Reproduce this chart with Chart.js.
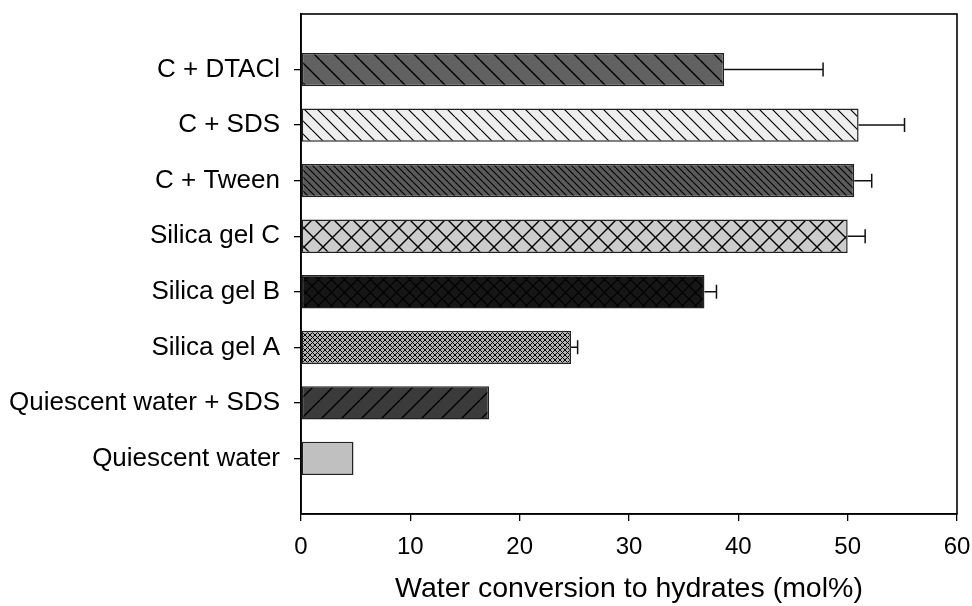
<!DOCTYPE html>
<html>
<head>
<meta charset="utf-8">
<script src="https://cdn.jsdelivr.net/npm/chart.js@4.4.1/dist/chart.umd.min.js"></script>
<style>
  html, body { margin: 0; padding: 0; background: #ffffff; }
  #wrap { width: 972px; height: 606px; }
</style>
</head>
<body>
<div id="wrap"><canvas id="c" width="972" height="606"></canvas></div>
<script>
// ---- data (top to bottom as drawn) ----
const categories = ['C + DTACl', 'C + SDS', 'C + Tween', 'Silica gel C', 'Silica gel B', 'Silica gel A', 'Quiescent water + SDS', 'Quiescent water'];
const conversion = [38.7, 51.0, 50.6, 50.0, 36.9, 24.7, 17.2, 4.8];
const errorUpper = [47.75, 55.2, 52.2, 51.6, 38.0, 25.3, null, null];
const xTicks = [0, 10, 20, 30, 40, 50, 60];
const xTitle = 'Water conversion to hydrates (mol%)';

// ---- fill patterns ----
function makePattern(bg, size, kind, lineColor, lw) {
  const c = document.createElement('canvas');
  c.width = size; c.height = size;
  const g = c.getContext('2d');
  g.fillStyle = bg; g.fillRect(0, 0, size, size);
  if (kind !== 'none') {
    g.strokeStyle = lineColor; g.lineWidth = lw;
    g.beginPath();
    for (let k = -1; k <= 1; k++) {
      if (kind === 'back' || kind === 'cross') { g.moveTo(k * size, 0); g.lineTo(k * size + size, size); }
      if (kind === 'fwd' || kind === 'cross') { g.moveTo(k * size, size); g.lineTo(k * size + size, 0); }
    }
    g.stroke();
  }
  return document.getElementById('c').getContext('2d').createPattern(c, 'repeat');
}
const fills = [
  makePattern('#616161', 20, 'back', '#000', 1.4),
  makePattern('#eeeeee', 13, 'back', '#000', 1.2),
  makePattern('#5a5a5a', 7, 'back', '#000', 1.1),
  makePattern('#cccccc', 19, 'cross', '#000', 1.4),
  makePattern('#161616', 13, 'cross', '#000', 1.2),
  makePattern('#b4b4b4', 5, 'cross', '#000', 1.0),
  makePattern('#3b3b3b', 20, 'fwd', '#000', 1.4),
  makePattern('#c0c0c0', 8, 'none', '#000', 1)
];

const points = conversion.map((v, i) => ({ x: v, y: i }));

const frameAndErrors = {
  id: 'frameAndErrors',
  afterDatasetsDraw(chart) {
    const ctx = chart.ctx;
    const xs = chart.scales.x;
    const meta = chart.getDatasetMeta(0);
    ctx.save();
    ctx.strokeStyle = '#111';
    ctx.lineWidth = 1.5;
    meta.data.forEach((bar, i) => {
      const up = errorUpper[i];
      if (up === null) return;
      const x0 = xs.getPixelForValue(conversion[i]);
      const x1 = xs.getPixelForValue(up);
      const y = bar.y;
      ctx.beginPath();
      ctx.moveTo(x0, y); ctx.lineTo(x1, y);
      ctx.moveTo(x1, y - 7); ctx.lineTo(x1, y + 7);
      ctx.stroke();
    });
    const a = chart.chartArea;
    ctx.strokeStyle = '#000';
    ctx.lineWidth = 1.6;
    ctx.strokeRect(a.left, a.top, a.right - a.left, a.bottom - a.top);
    ctx.restore();
  }
};

new Chart(document.getElementById('c'), {
  type: 'bar',
  data: {
    datasets: [{
      data: points,
      backgroundColor: fills,
      borderColor: '#222',
      borderWidth: 1.5,
      borderSkipped: false,
      barPercentage: 0.6,
      categoryPercentage: 1.0
    }]
  },
  plugins: [frameAndErrors],
  options: {
    indexAxis: 'y',
    responsive: false,
    animation: false,
    layout: { padding: { top: 14, right: 15, left: 0, bottom: 0 } },
    plugins: { legend: { display: false }, tooltip: { enabled: false } },
    scales: {
      x: {
        type: 'linear', min: 0, max: 60, offset: false,
        afterBuildTicks(s) { s.ticks = xTicks.map(v => ({ value: v })); },
        afterFit(s) { s.height = 92; s.paddingLeft = 0; s.paddingRight = 0; },
        grid: { display: true, offset: false, drawOnChartArea: false, drawTicks: true, tickLength: 7, color: '#000', lineWidth: 1.3 },
        border: { display: true, color: '#000', width: 1.6 },
        ticks: { color: '#000', padding: 12, font: { family: 'Liberation Sans', size: 24 }, maxRotation: 0 },
        title: { display: true, text: xTitle, color: '#000', font: { family: 'Liberation Sans', size: 28.5 }, padding: { top: 10, bottom: 0 } }
      },
      y: {
        type: 'linear', min: -1, max: 8, reverse: true, offset: false,
        afterBuildTicks(s) { s.ticks = categories.map((c, i) => ({ value: i })); },
        afterFit(s) { s.width = 301; s.paddingTop = 0; s.paddingBottom = 0; },
        grid: { display: true, offset: false, drawOnChartArea: false, drawTicks: true, tickLength: 7, color: '#000', lineWidth: 1.3 },
        border: { display: true, color: '#000', width: 1.6 },
        ticks: {
          color: '#000', padding: 14, autoSkip: false,
          font: { family: 'Liberation Sans', size: 26 },
          callback: (v) => categories[v] !== undefined ? categories[v] : ''
        }
      }
    }
  }
});
</script>
</body>
</html>
